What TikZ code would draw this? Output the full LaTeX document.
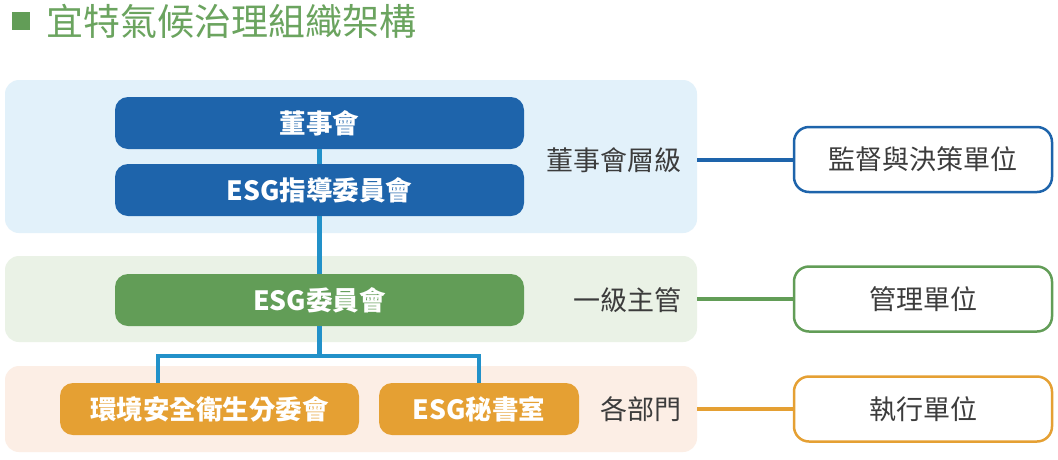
\documentclass[tikz,border=0pt]{standalone}
\usepackage{fontspec}
\setmainfont{Noto Sans CJK TC}
\definecolor{boardblue}{HTML}{1E64AB}
\definecolor{treeline}{HTML}{2291C9}
\definecolor{mgrgreen}{HTML}{629D57}
\definecolor{deptorange}{HTML}{E5A033}
\definecolor{bluebg}{HTML}{E2F1FA}
\definecolor{greenbg}{HTML}{EAF2E6}
\definecolor{orangebg}{HTML}{FCEEE5}
\definecolor{labgray}{HTML}{3C3C3C}
\definecolor{titlegreen}{HTML}{6BA45F}
\begin{document}
\begin{tikzpicture}[x=1pt, y=-1pt,
    panel/.style={rectangle, rounded corners=14pt, inner sep=0pt, draw=none},
    unit/.style={rectangle, rounded corners=13pt, minimum height=52pt, inner sep=0pt,
      text=white, font=\fontsize{26.5}{30}\selectfont\bfseries},
    tier/.style={text=labgray, anchor=east, inner sep=0pt, font=\fontsize{27}{30}\selectfont},
    role/.style={rectangle, rounded corners=15pt, fill=white, line width=2.5pt,
      minimum width=258pt, minimum height=65pt, text=labgray, font=\fontsize{27}{30}\selectfont},
    tree/.style={treeline, line width=4.5pt},
    link/.style={line width=4pt}]
  \fill[white] (0,0) rectangle (1058,459);
  \useasboundingbox (0,0) rectangle (1058,459);
  % title
  \fill[mgrgreen] (12,12) rectangle (30,30);
  \node[anchor=west, inner sep=0pt, text=titlegreen, font=\fontsize{37}{40}\selectfont] (title) at (46,21) {宜特氣候治理組織架構};
  % panels
  \node[panel, fill=bluebg, minimum width=692pt, minimum height=153pt] (p1) at (351,156.5) {};
  \node[panel, fill=greenbg, minimum width=692pt, minimum height=86pt] (p2) at (351,299) {};
  \node[panel, fill=orangebg, minimum width=692pt, minimum height=86pt] (p3) at (351,409) {};
  % units
  \node[unit, fill=boardblue, minimum width=409pt] (n1) at (319.5,123) {董事會};
  \node[unit, fill=boardblue, minimum width=409pt] (n2) at (319.5,190) {ESG指導委員會};
  \node[unit, fill=mgrgreen, minimum width=409pt] (n3) at (319.5,300) {ESG委員會};
  \node[unit, fill=deptorange, minimum width=299pt] (n4) at (209.5,409) {環境安全衛生分委會};
  \node[unit, fill=deptorange, minimum width=200pt] (n5) at (479,409) {ESG秘書室};
  \draw[tree] (n1) -- (n2);
  \draw[tree] (n2) -- (n3);
  \draw[tree] (n3.south) -- ++(0,30) -| ([xshift=-51.5pt]n4.north);
  \draw[tree] (n3.south) -- ++(0,30) -| (n5.north);
  % tiers
  \node[tier] (t1) at (682,160) {董事會層級};
  \node[tier] (t2) at (682,300) {一級主管};
  \node[tier] (t3) at (682,409) {各部門};
  \node[role, draw=boardblue] (r1) at (923,159.5) {監督與決策單位};
  \node[role, draw=mgrgreen] (r2) at (923,299) {管理單位};
  \node[role, draw=deptorange] (r3) at (923,409) {執行單位};
  \draw[link, boardblue] (p1.east |- r1.west) -- (r1.west);
  \draw[link, mgrgreen] (p2.east |- r2.west) -- (r2.west);
  \draw[link, deptorange] (p3.east |- r3.west) -- (r3.west);
\end{tikzpicture}
\end{document}
